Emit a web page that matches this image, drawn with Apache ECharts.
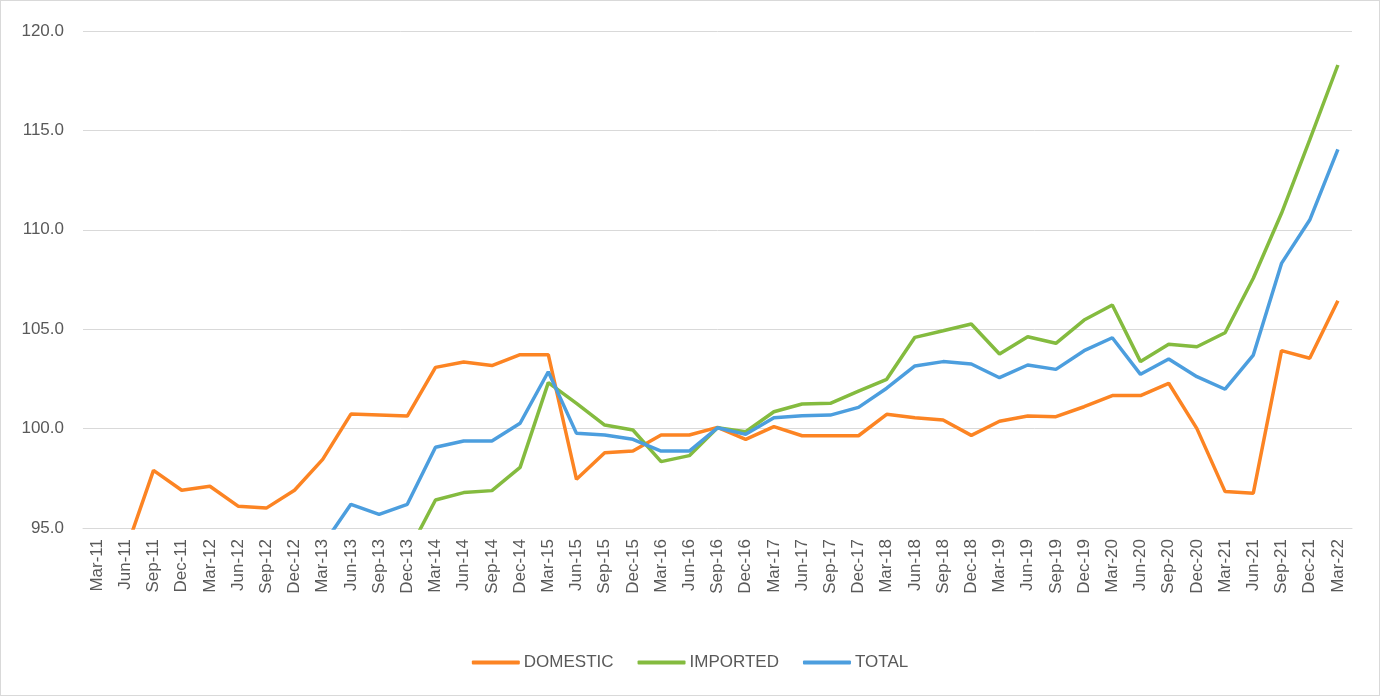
<!DOCTYPE html>
<html>
<head>
<meta charset="utf-8">
<script src="https://cdn.jsdelivr.net/npm/echarts@6/dist/echarts.min.js"></script>
<style>
html,body{margin:0;padding:0;background:#fff;}
#c{width:1380px;height:696px;box-sizing:border-box;border:1px solid #d9d9d9;}
</style>
</head>
<body>
<div id="c"></div>
<script>
const categories = ["Mar-11","Jun-11","Sep-11","Dec-11","Mar-12","Jun-12","Sep-12","Dec-12","Mar-13","Jun-13","Sep-13","Dec-13","Mar-14","Jun-14","Sep-14","Dec-14","Mar-15","Jun-15","Sep-15","Dec-15","Mar-16","Jun-16","Sep-16","Dec-16","Mar-17","Jun-17","Sep-17","Dec-17","Mar-18","Jun-18","Sep-18","Dec-18","Mar-19","Jun-19","Sep-19","Dec-19","Mar-20","Jun-20","Sep-20","Dec-20","Mar-21","Jun-21","Sep-21","Dec-21","Mar-22"];
const domestic = [93.3,93.8,97.9,96.9,97.1,96.1,96.0,96.9,98.45,100.73,100.68,100.63,103.08,103.35,103.17,103.72,103.72,97.45,98.79,98.87,99.68,99.68,100.06,99.46,100.1,99.64,99.64,99.64,100.72,100.55,100.43,99.66,100.37,100.63,100.6,101.1,101.66,101.66,102.28,100.0,96.83,96.75,103.92,103.54,106.43];
const imported = [92.5,92.6,92.8,92.7,92.9,92.6,92.5,92.8,93.0,93.4,93.3,93.7,96.41,96.78,96.88,98.05,102.31,101.27,100.18,99.93,98.34,98.64,100.04,99.84,100.85,101.24,101.27,101.89,102.48,104.59,104.92,105.26,103.75,104.62,104.29,105.46,106.22,103.37,104.24,104.12,104.82,107.56,110.83,114.52,118.29];
const total = [92.9,93.0,93.6,93.4,93.6,93.1,93.0,93.4,94.13,96.19,95.69,96.19,99.06,99.38,99.38,100.27,102.86,99.76,99.68,99.46,98.87,98.87,100.04,99.71,100.55,100.65,100.68,101.07,102.03,103.15,103.37,103.25,102.56,103.2,102.98,103.92,104.57,102.73,103.5,102.61,101.98,103.7,108.31,110.49,114.05];
const seriesNames = ["DOMESTIC","IMPORTED","TOTAL"];
const colors = ["#FC8423","#84BB3F","#4C9EDE"];
const yTicks = {min:95, max:120, interval:5};

const FONT = "'Liberation Sans', Arial, sans-serif";
const chart = echarts.init(document.getElementById('c'));
const dataSets = [domestic, imported, total];
chart.setOption({
  animation:false,
  color: colors,
  grid:{left:82, right:27, top:30, bottom:167, containLabel:false},
  legend:{
    bottom:19, left:'center',
    itemWidth:48, itemHeight:4, itemGap:24,
    icon:'roundRect',
    textStyle:{fontFamily:FONT, fontSize:17, color:'#595959', padding:[0,0,0,-1]},
    data: seriesNames
  },
  xAxis:{
    type:'category', data:categories, boundaryGap:true,
    axisLine:{lineStyle:{color:'#d9d9d9', width:1}},
    axisTick:{show:false},
    axisLabel:{rotate:90, interval:0, fontFamily:FONT, fontSize:17, color:'#595959', margin:11}
  },
  yAxis:{
    type:'value', min:yTicks.min, max:yTicks.max, interval:yTicks.interval,
    axisLine:{show:false}, axisTick:{show:false},
    splitLine:{lineStyle:{color:'#d9d9d9', width:1}},
    axisLabel:{formatter:v=>v.toFixed(1), fontFamily:FONT, fontSize:17, color:'#595959', margin:19}
  },
  series: seriesNames.map((n,i)=>({
    name:n, type:'line', data:dataSets[i], showSymbol:false, symbol:'none',
    clip:true, lineStyle:{width:3.5, color:colors[i]}, itemStyle:{color:colors[i]}
  }))
});
</script>
</body>
</html>
